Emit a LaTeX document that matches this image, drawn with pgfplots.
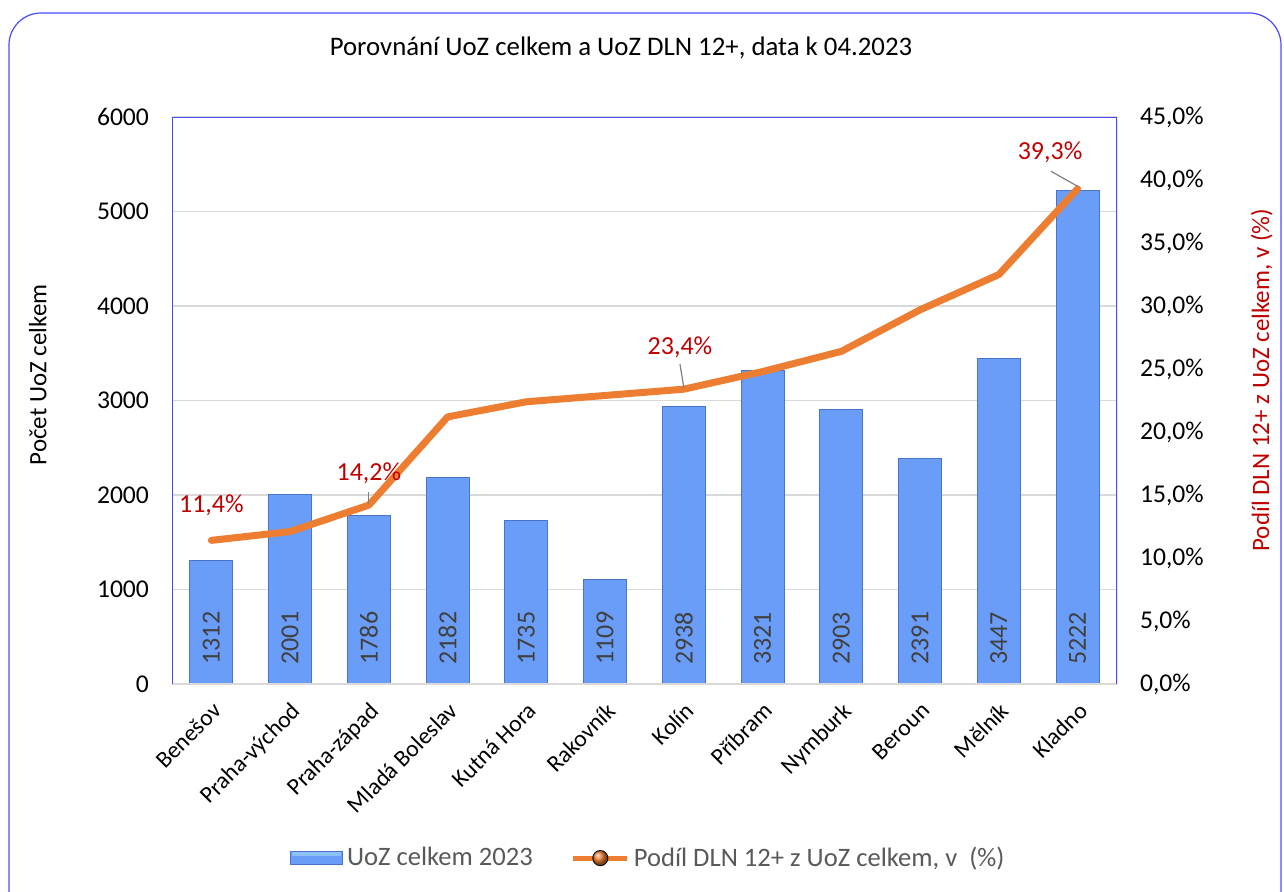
\documentclass[border=0pt]{standalone}
\usepackage{pgfplots}
\pgfplotsset{compat=1.18}
\usepackage{fontspec}
\setmainfont{Carlito}

\definecolor{barblue}{HTML}{6A9DF8}
\definecolor{bardark}{HTML}{4A74C8}
\definecolor{barlight}{HTML}{8EC2FF}
\definecolor{lineorange}{HTML}{ED7D31}
\definecolor{labelred}{HTML}{C00000}
\definecolor{frameblue}{HTML}{4848FF}
\definecolor{gridgray}{HTML}{D9D9D9}
\definecolor{textgray}{HTML}{404040}
\definecolor{leggray}{HTML}{595959}

\pgfplotsset{
  /pgf/number format/1000 sep={},
  /pgf/number format/assume math mode=true,
}

\begin{document}
\begin{tikzpicture}
\useasboundingbox (0pt,0pt) rectangle (642pt,445.5pt);
\draw[frameblue, line width=0.6pt, rounded corners=16pt] (4.5pt,-30pt) rectangle (640.5pt,439pt);
\node[font=\fontsize{13.4}{15}\selectfont] at (310.5pt,421.5pt) {Porovnání UoZ celkem a UoZ DLN 12+, data k 04.2023};

% bars, left axis
\begin{axis}[
  at={(86pt,103.5pt)}, anchor=south west,
  scale only axis, width=472.5pt, height=283.5pt,
  xmin=-0.5, xmax=11.5, ymin=0, ymax=6000,
  ybar, bar width=21.5pt,
  axis line style={draw=none},
  major tick length=0pt,
  ytick={0,1000,...,6000},
  ymajorgrids, grid style={gridgray, line width=0.8pt},
  yticklabel style={font=\fontsize{12.8}{14}\selectfont, xshift=-8pt},
  xtick={0,...,11},
  xticklabels={Benešov, Praha-východ, Praha-západ, Mladá Boleslav, Kutná Hora, Rakovník, Kolín, Příbram, Nymburk, Beroun, Mělník, Kladno},
  xticklabel style={rotate=45, anchor=north east, font=\fontsize{11.8}{13}\selectfont, xshift=-2.5pt, yshift=-2.5pt},
  ylabel={Počet UoZ celkem},
  every axis y label/.style={at={(rel axis cs:-0.142,0.545)}, rotate=90, anchor=center, font=\fontsize{12.5}{14}\selectfont},
]
\addplot[draw=bardark, line width=0.5pt, fill=barblue,
  nodes near coords,
  visualization depends on={y \as \rawy},
  every node near coord/.append style={yshift={-\rawy*0.04725pt+9.5pt}, rotate=90, anchor=west, inner sep=0pt,
    text=textgray, font=\fontsize{13}{15}\selectfont},
] coordinates {
  (0,1312) (1,2001) (2,1786) (3,2182) (4,1735) (5,1109)
  (6,2938) (7,3321) (8,2903) (9,2391) (10,3447) (11,5222)
};
\end{axis}

% share line, right axis
\begin{axis}[
  at={(86pt,103.5pt)}, anchor=south west,
  scale only axis, width=472.5pt, height=283.5pt,
  xmin=-0.5, xmax=11.5, ymin=0, ymax=45,
  hide x axis,
  axis y line*=right, y axis line style={draw=none},
  major tick length=0pt,
  ytick={0,5,...,45},
  yticklabel={\pgfmathprintnumber[fixed,fixed zerofill,precision=1,use comma]{\tick}\%},
  yticklabel style={font=\fontsize{12.8}{14}\selectfont, xshift=8pt},
  ylabel={Podíl DLN 12+ z UoZ celkem, v (\%)},
  every axis y label/.style={at={(rel axis cs:1.153,0.536)}, rotate=90, anchor=center, text=labelred, font=\fontsize{12.5}{14}\selectfont},
  legend style={at={(rel axis cs:0.505,-0.307)}, anchor=center, draw=none, fill=none,
    legend columns=2, font=\fontsize{13.3}{15}\selectfont, text=leggray,
    /tikz/every even column/.append style={column sep=17pt}},
]
\addlegendimage{legend image code/.code={
  \filldraw[draw=bardark, line width=0.5pt, fill=barblue] (0pt,-3.4pt) rectangle (26pt,3.4pt);
  \fill[barlight] (1pt,2.6pt) rectangle (25pt,1.2pt);}}
\addlegendentry{UoZ celkem 2023}
\addlegendimage{legend image code/.code={
  \draw[lineorange, line width=2.5pt] (0pt,0pt) -- (27pt,0pt);
  \shade[ball color=lineorange] (13.5pt,0pt) circle (3.8pt);}}
\addlegendentry{Podíl DLN 12+ z UoZ celkem, v\ \ (\%)}
\addplot[lineorange, line width=3.5pt, line join=round, line cap=round, forget plot] coordinates {
  (0,11.4) (1,12.1) (2,14.2) (3,21.2) (4,22.4) (5,22.9)
  (6,23.4) (7,24.8) (8,26.4) (9,29.7) (10,32.5) (11,39.3)
};
\begin{scope}[font=\fontsize{13}{15}\selectfont, text=labelred]
\node at (axis cs:0,14.2) {11,4\%};
\node at (axis cs:2,16.7) {14,2\%};
\node at (axis cs:5.95,26.7) {23,4\%};
\node at (axis cs:10.65,42.2) {39,3\%};
\end{scope}
\draw[gray, line width=0.6pt] (axis cs:2,15.2) -- (axis cs:2,14.3);
\draw[gray, line width=0.6pt] (axis cs:5.95,25.4) -- (axis cs:6,23.5);
\draw[gray, line width=0.6pt] (axis cs:10.66,40.7) -- (axis cs:11,39.5);
\draw[gridgray, line width=1.2pt] (rel axis cs:0,0) -- (rel axis cs:1,0);
\draw[frameblue, line width=0.6pt] (rel axis cs:0,0) -- (rel axis cs:0,1) -- (rel axis cs:1,1) -- (rel axis cs:1,0);
\end{axis}
\end{tikzpicture}
\end{document}
